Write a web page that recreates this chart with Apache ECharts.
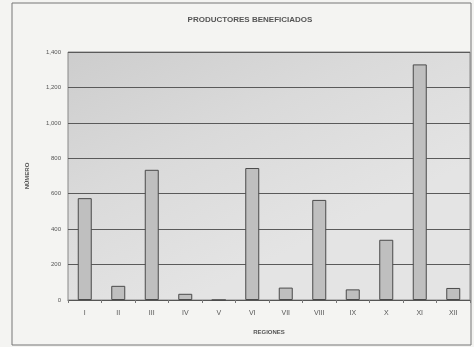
<!DOCTYPE html>
<html>
<head>
<meta charset="utf-8">
<script src="https://cdn.jsdelivr.net/npm/echarts@6/dist/echarts.min.js"></script>
<style>
  html, body { margin: 0; padding: 0; background: #f4f4f2; }
  #chart { width: 474px; height: 347px; }
</style>
</head>
<body>
<div id="chart"></div>
<script>
const regions = ["I", "II", "III", "IV", "V", "VI", "VII", "VIII", "IX", "X", "XI", "XII"];
const producers = [575, 80, 735, 35, 0, 745, 70, 565, 60, 340, 1330, 68];
const yTicks = [0, 200, 400, 600, 800, 1000, 1200, 1400];

const chart = echarts.init(document.getElementById("chart"));

const fmt = (v) => v.toLocaleString("en-US");

const option = {
  backgroundColor: "#f4f4f2",
  animation: false,
  textStyle: { fontFamily: "Liberation Sans, Arial, sans-serif" },
  title: {
    text: "PRODUCTORES BENEFICIADOS",
    left: 245,
    textAlign: "center",
    top: 11,
    textStyle: { fontSize: 8, fontWeight: "bold", color: "#555" },
  },
  graphic: [
    {
      type: "rect",
      shape: { x: 12, y: 3, width: 459, height: 342 },
      style: { fill: "none", stroke: "#777", lineWidth: 1 },
      silent: true,
    },
  ],
  grid: {
    left: 68,
    right: 4,
    top: 52,
    bottom: 47,
    show: true,
    borderColor: "#888",
    borderWidth: 1,
    backgroundColor: {
      type: "linear",
      x: 0, y: 0, x2: 0.3, y2: 1,
      colorStops: [
        { offset: 0, color: "#cdcdcd" },
        { offset: 0.5, color: "#dadada" },
        { offset: 1, color: "#e4e4e4" },
      ],
    },
  },
  xAxis: {
    type: "category",
    data: regions,
    name: "REGIONES",
    nameLocation: "middle",
    nameGap: 29,
    nameTextStyle: { fontSize: 6, color: "#555", fontWeight: "bold" },
    axisLine: { lineStyle: { color: "#555" } },
    axisTick: { show: true, alignWithLabel: false, length: 3, lineStyle: { color: "#777" } },
    axisLabel: { fontSize: 7, color: "#555", margin: 10 },
  },
  yAxis: {
    type: "value",
    min: 0,
    max: 1400,
    interval: 200,
    name: "NÚMERO",
    nameLocation: "middle",
    nameGap: 38,
    nameTextStyle: { fontSize: 6, color: "#555", fontWeight: "bold" },
    axisLine: { show: false },
    axisTick: { show: false },
    axisLabel: {
      fontSize: 6,
      color: "#555",
      margin: 7,
      formatter: (v) => (yTicks.includes(v) ? fmt(v) : ""),
    },
    splitLine: { lineStyle: { color: "#5a5a5a", width: 1 } },
  },
  series: [
    {
      type: "bar",
      data: producers,
      barWidth: 14,
      itemStyle: {
        color: "#bfbfbf",
        borderColor: "#4a4a4a",
        borderWidth: 1,
      },
    },
  ],
};

chart.setOption(option);
</script>
</body>
</html>
